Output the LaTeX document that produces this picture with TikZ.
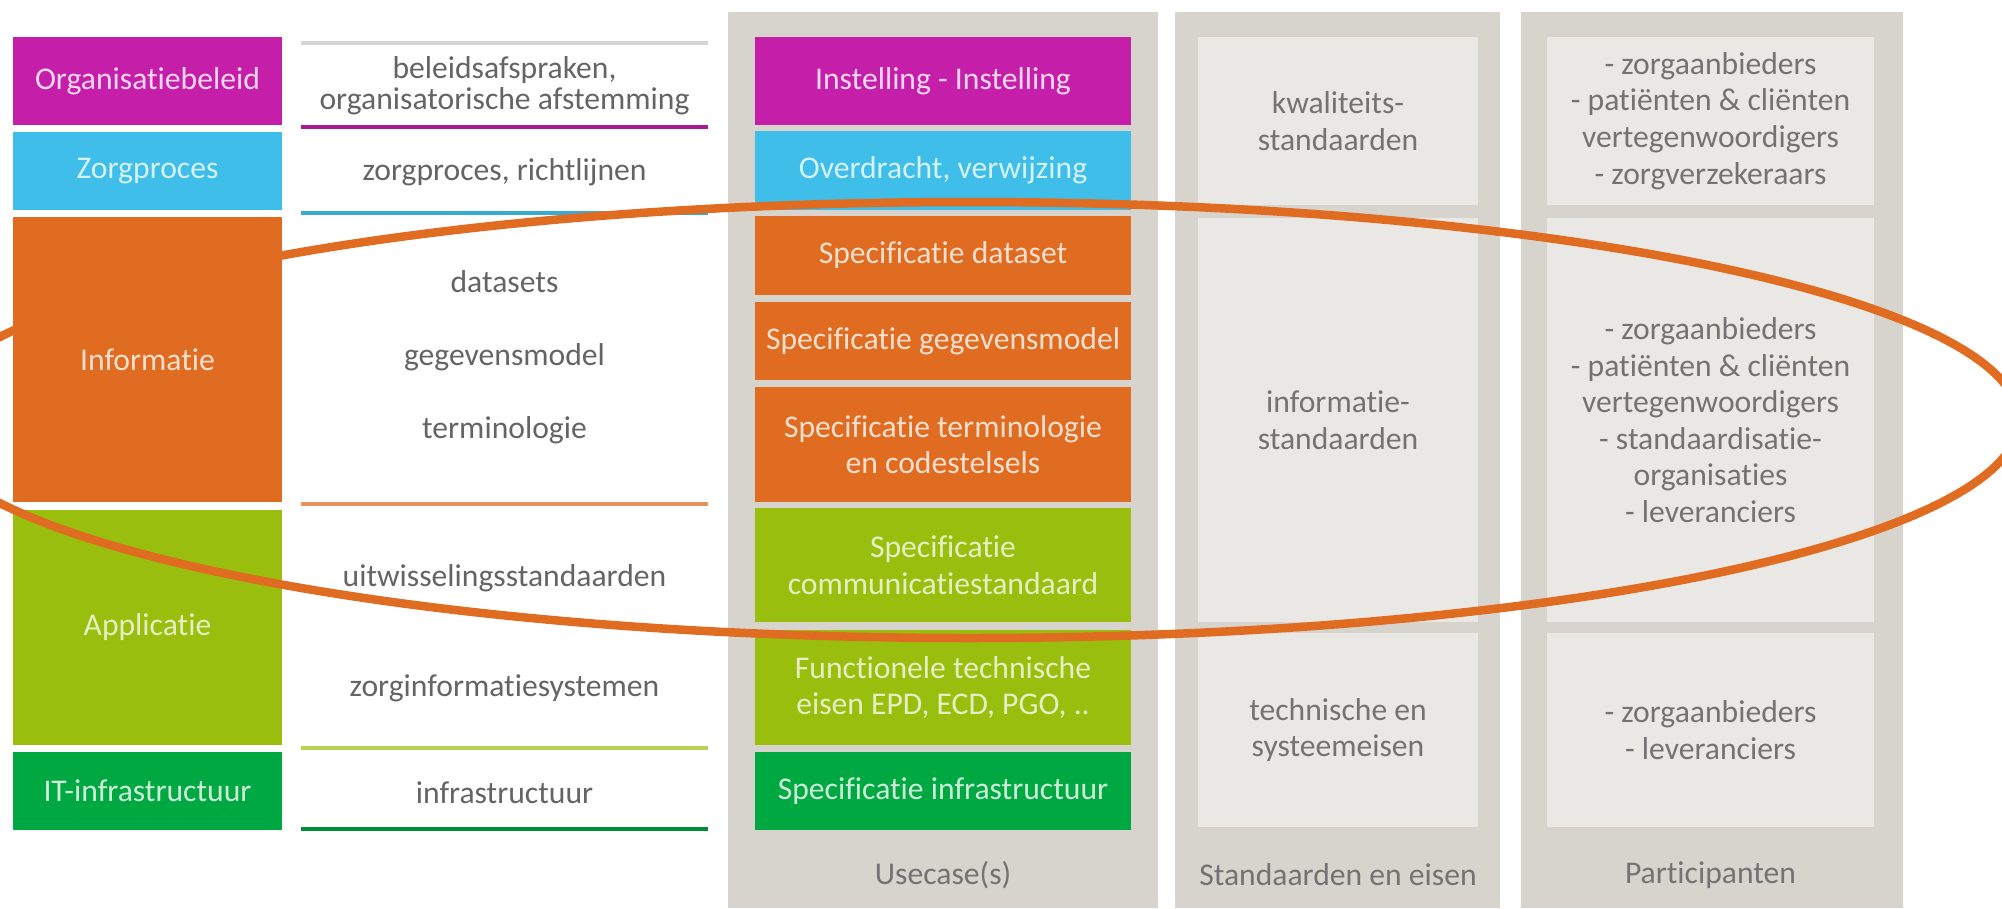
\documentclass[tikz,border=0pt]{standalone}
\usepackage{fontspec}
\setmainfont{Carlito}[Ligatures=NoCommon]
\usepackage{xcolor}
\usetikzlibrary{positioning}

\definecolor{cmag}{RGB}{197,31,170}
\definecolor{ccyan}{RGB}{62,190,232}
\definecolor{corange}{RGB}{224,108,34}
\definecolor{clime}{RGB}{154,190,14}
\definecolor{cgreen}{RGB}{0,168,66}
\definecolor{cpanel}{RGB}{215,211,205}
\definecolor{ccell}{RGB}{234,232,229}
\definecolor{ctext}{RGB}{100,100,100}
\definecolor{cgraytext}{RGB}{115,115,115}
\definecolor{cline}{RGB}{212,212,212}
\colorlet{tmag}{white!82!cmag}
\colorlet{tcyan}{white!78!ccyan}
\colorlet{torange}{white!78!corange}
\colorlet{tlime}{white!75!clime}
\colorlet{tgreen}{white!80!cgreen}

\begin{document}
\begin{tikzpicture}[x=0.1mm, y=-0.1mm, font=\fontsize{9pt}{10.4pt}\selectfont]
		\tikzstyle{layer} = [rectangle, inner sep=0pt, align=center, minimum width=26.9mm]
		\tikzstyle{usecase} = [rectangle, inner sep=0pt, align=center, minimum width=37.6mm]
		\tikzstyle{panel} = [rectangle, inner sep=0pt, fill=cpanel, minimum height=89.6mm]
		\tikzstyle{cell} = [rectangle, inner sep=0pt, fill=ccell, text=cgraytext, align=center]
		\tikzstyle{topic} = [text=ctext, align=center]
		\tikzstyle{caption} = [text=cgraytext]
		\tikzstyle{rule} = [line width=0.4mm]
		\tikzstyle{scope} = [draw=corange, line width=0.85mm]
		
		\useasboundingbox (0, 0) rectangle (2002, 908);
		\clip (0, 0) rectangle (2002, 908);
		
		\node[layer, fill=cmag, text=tmag, minimum height=8.8mm]		at (147.5, 81)		(org)		{Organisatiebeleid};
		\node[layer, fill=ccyan, text=tcyan, minimum height=7.8mm]		at (147.5, 171)		(zorg)		{Zorgproces};
		\node[layer, fill=corange, text=torange, minimum height=28.5mm]	at (147.5, 359.5)	(info)		{Informatie};
		\node[layer, fill=clime, text=tlime, minimum height=23.5mm]		at (147.5, 627.5)	(appl)		{Applicatie};
		\node[layer, fill=cgreen, text=tgreen, minimum height=7.8mm]	at (147.5, 791)		(itinfra)	{IT-infrastructuur};
		
		\draw[rule, cline]				(301, 43) -- (708, 43);
		\draw[rule, cmag!85!black]		(301, 127) -- (708, 127);
		\draw[rule, ccyan!90!black]		(301, 213) -- (708, 213);
		\draw[rule, corange!75!white]	(301, 504) -- (708, 504);
		\draw[rule, clime!70!white]		(301, 748) -- (708, 748);
		\draw[rule, cgreen!85!black]	(301, 829) -- (708, 829);
		
		\node[topic, font=\fontsize{9pt}{7pt}\selectfont]	at (504.5, 86)	(tbeleid)	{beleidsafspraken,\\organisatorische afstemming};
		\node[topic]	at (504.5, 172)		(tzorg)		{zorgproces, richtlijnen};
		\node[topic]	at (504.5, 282)		(tdata)		{datasets};
		\node[topic]	at (504.5, 357)		(tgegev)	{gegevensmodel};
		\node[topic]	at (504.5, 430)		(tterm)		{terminologie};
		\node[topic]	at (504.5, 578)		(tuitw)		{uitwisselingsstandaarden};
		\node[topic]	at (504.5, 688)		(tzis)		{zorginformatiesystemen};
		\node[topic]	at (504.5, 793)		(tinfra)	{infrastructuur};
		
		\node[panel, minimum width=43mm]	at (943, 460)		(pusecase)	{};
		\node[panel, minimum width=32.5mm]	at (1337.5, 460)	(pstand)	{};
		\node[panel, minimum width=38.2mm]	at (1712, 460)		(ppart)		{};
		
		\node[usecase, fill=cmag, text=tmag, minimum height=8.8mm]		at (943, 81)		(uinst)		{Instelling - Instelling};
		\node[usecase, fill=ccyan, text=tcyan, minimum height=7.9mm]	at (943, 170.5)		(uover)		{Overdracht, verwijzing};
		\node[usecase, fill=corange, text=torange, minimum height=7.9mm]	at (943, 255.5)	(udata)		{Specificatie dataset};
		\node[usecase, fill=corange, text=torange, minimum height=7.8mm]	at (943, 341)	(ugegev)	{Specificatie gegevensmodel};
		\node[usecase, fill=corange, text=torange, minimum height=11.5mm]	at (943, 444.5)	(uterm)		{Specificatie terminologie\\en codestelsels};
		\node[usecase, fill=clime, text=tlime, minimum height=11.4mm]	at (943, 565)		(ucomm)		{Specificatie\\communicatiestandaard};
		\node[usecase, fill=clime, text=tlime, minimum height=11.5mm]	at (943, 687.5)		(ufunc)		{Functionele technische\\eisen EPD, ECD, PGO, ..};
		\node[usecase, fill=cgreen, text=tgreen, minimum height=7.8mm]	at (943, 791)		(uinfra)	{Specificatie infrastructuur};
		
		\node[cell, minimum width=28mm, minimum height=16.8mm]	at (1338, 121)	(skwal)		{kwaliteits-\\standaarden};
		\node[cell, minimum width=28mm, minimum height=40.4mm]	at (1338, 420)	(sinfo)		{informatie-\\standaarden};
		\node[cell, minimum width=28mm, minimum height=19.4mm]	at (1338, 730)	(stech)		{technische en\\systeemeisen};
		
		\node[cell, minimum width=32.7mm, minimum height=16.8mm]	at (1710.5, 121)	(pkwal)	{- zorgaanbieders\\- patiënten \& cliënten\\vertegenwoordigers\\- zorgverzekeraars};
		\node[cell, minimum width=32.7mm, minimum height=40.4mm]	at (1710.5, 420)	(pinfo)	{- zorgaanbieders\\- patiënten \& cliënten\\vertegenwoordigers\\- standaardisatie-\\organisaties\\- leveranciers};
		\node[cell, minimum width=32.7mm, minimum height=19.4mm]	at (1710.5, 730)	(ptech)	{- zorgaanbieders\\- leveranciers};
		
		\node[caption]	at (943, 875)		(lusecase)	{Usecase(s)};
		\node[caption]	at (1338, 875)		(lstand)	{Standaarden en eisen};
		\node[caption]	at (1710.5, 875)	(lpart)		{Participanten};
		
		\draw[scope] (970, 420) ellipse [x radius=104.9mm, y radius=21.8mm];
	\end{tikzpicture}
\end{document}
